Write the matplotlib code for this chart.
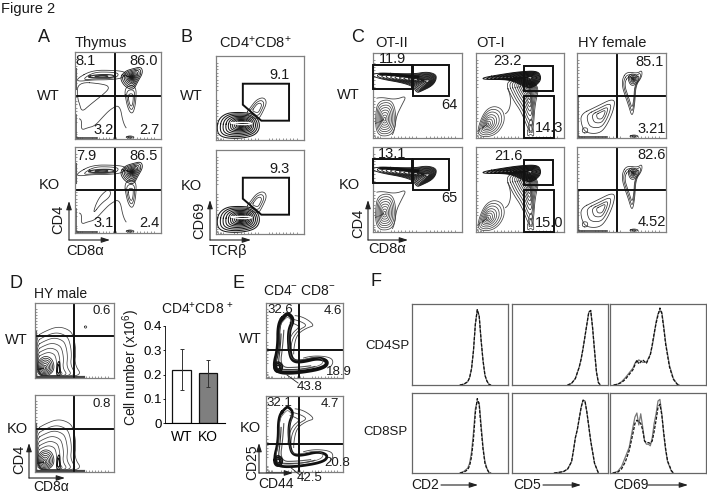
import numpy as np
import matplotlib
matplotlib.use('Agg')
import matplotlib.pyplot as plt

plt.rcParams['font.family'] = ['Liberation Sans', 'DejaVu Sans']
plt.rcParams['mathtext.default'] = 'regular'

W, H = 707, 493

# contour traces, axis units 0-100 in each flow panel
A_BAND = [(3, 70), (20, 79), (45, 79), (60, 77), (56, 70), (40, 68), (20, 68), (3, 66)]
A_BAND_IN = [(12, 71), (25, 74), (44, 74), (46, 71), (30, 70)]
A_DP = [(52, 70), (58, 78), (68, 81), (77, 83), (79, 76), (73, 66), (68, 56), (58, 60)]
A_TAIL = [(57, 60), (60, 40), (64, 30), (68, 30), (71, 44), (71, 62)]
A_DN1 = [(3, 66), (35, 63), (40, 59), (35, 53), (17, 39), (8, 31), (5, 41), (3, 47)]
A_DN2 = [(3, 24), (8, 22), (7, 10), (15, 13), (23, 15), (33, 26), (41, 34), (52, 40), (56, 18), (62, 9)]
A_KO_DN = [(21, 22), (30, 34), (42, 43), (40, 52), (30, 44), (24, 33)]
A_DOT = [(58, 2), (64, 4), (70, 2), (64, 0.5)]

B_MAIN = [(1, 14), (3, 25), (12, 32), (25, 33), (40, 32), (48, 25), (50, 15), (45, 6), (30, 2), (12, 2), (3, 6)]
B_UP = [(33, 30), (40, 40), (46, 48), (54, 51), (58, 45), (53, 33), (48, 24)]
B_HOT = [(14, 20), (24, 21), (38, 21), (42, 19), (30, 18)]
B_GATE = [(30.5, 67), (83, 67), (83, 23), (51.5, 23), (30.5, 42)]

C2_BAND = [(0, 77), (45, 75), (60, 78), (71, 75), (71, 68), (66, 61), (54, 55), (49, 53), (44, 63), (0, 71)]
C2_STREAK = [(0, 75), (20, 75), (45, 72), (55, 72)]
C2_LOW = [(3, 3), (3, 35), (8, 44), (20, 45), (25, 35), (26, 15), (20, 2)]
C2_LINE = [(0, 46), (10, 48), (25, 45), (38, 50), (32, 38), (26, 25), (24, 8), (20, 1)]
C2_GATE_L = [(0, 58), (44, 58), (44, 86), (0, 86)]
C2_GATE_R = [(45, 50), (85, 50), (85, 86), (45, 86)]

C1_BAND = [(8, 71), (30, 75), (50, 78), (70, 79), (74, 72), (72, 65), (62, 58), (52, 62), (40, 68), (25, 69), (8, 69)]
C1_DIAG = [(32, 68), (42, 45), (52, 30), (60, 8), (65, 8), (67, 40), (72, 60), (60, 70)]
C1_LENS = [(58, 1), (60, 18), (63, 24), (65, 12), (66, 1), (62, 5)]
C1_LOW = [(2, 4), (3, 15), (10, 32), (20, 38), (30, 34), (33, 22), (28, 10), (20, 3), (10, 1)]
C1_LINE = [(33, 66), (40, 48), (38, 32), (30, 26)]
C1_GATE_U = [(54, 55), (87, 55), (87, 85), (54, 85)]
C1_GATE_L = [(54, 0), (89, 0), (89, 49), (54, 49)]

HF_DP = [(51, 70), (56, 78), (68, 76), (73, 80), (73, 72), (66, 62), (65, 40), (62, 24), (58, 38), (54, 50), (51, 60)]
HF_DP2 = [(57, 70), (60, 76), (68, 74), (69, 68), (65, 62), (60, 62)]
HF_DN = [(4, 28), (20, 36), (43, 48), (41, 32), (32, 12), (24, 5), (10, 6), (5, 15)]
HF_BOX = [(6, 6), (12, 6), (12, 12), (6, 12)]

D_MAIN = [(1, 55), (12, 62), (29, 69), (44, 64), (49, 55), (52, 36), (50, 18), (60, 3), (30, 2), (2, 2)]
D_IN = [(3, 3), (3, 22), (12, 30), (22, 26), (25, 12), (18, 3)]
D_SPIKE = [(27, 3), (28, 18), (31, 24), (32, 12), (32, 3)]
D_DOT = [(62, 68), (64, 70), (66, 68), (64, 66)]

E_L = [(25, 84), (16, 73), (16, 40), (10, 16), (16, 7), (40, 7), (75, 13), (81, 22), (68, 27),
       (48, 22), (36, 22), (31, 31), (29, 62), (36, 78), (29, 86)]
E_LOBE = [(30, 84), (48, 82), (64, 70), (53, 67), (40, 58), (36, 40), (36, 26)]
E_LOBE2 = [(28, 80), (44, 76), (54, 70), (42, 64), (33, 50), (32, 30)]
E_LOBE3 = [(26, 76), (38, 72), (44, 68), (34, 60), (29, 46), (28, 30)]
E_MID = [(24, 78), (22, 45), (18, 14), (40, 14), (72, 18)]
E_MID2 = [(20, 70), (19, 44), (15, 12), (30, 11), (50, 12), (74, 18)]
E_OUT = [(40, 24), (60, 30), (84, 28), (88, 20), (80, 11)]
E_BLOB = [(10, 12), (11, 20), (17, 22), (22, 16), (20, 9), (14, 7)]

CROSS_A = (47, 50)
CROSS_C = (45.5, 49)
CROSS_D = (49, 56)
CROSS_E = (43, 37)

FLOW_TICKS = [0, 2, 4, 6, 8, 20, 24, 28, 32, 36, 40, 44, 48, 60, 64, 68, 72, 76, 80, 84, 88, 92]

# histograms, panel F
CD2_X = [50, 54, 58, 60, 62, 64, 66, 68, 70, 72, 74, 76, 78, 80, 82]
CD2_TOP = [0, 1, 4, 9, 20, 42, 75, 93, 85, 55, 30, 12, 5, 1, 0]
CD2_BOT = [0, 2, 6, 12, 26, 50, 80, 90, 88, 60, 32, 14, 6, 1, 0]
CD5_X = [58, 62, 66, 70, 72, 74, 76, 78, 80, 82, 84, 86, 88, 90, 92]
CD5_TOP = [0, 2, 8, 22, 32, 45, 60, 75, 90, 92, 70, 42, 16, 3, 0]
CD5B_X = [44, 50, 54, 58, 62, 64, 66, 68, 70, 72, 74, 76, 78, 80, 82, 86, 90]
CD5_BOT = [0, 1, 2, 5, 14, 28, 44, 54, 68, 82, 91, 90, 76, 58, 40, 12, 0]
CD69_X = [4, 8, 12, 16, 20, 24, 26, 28, 30, 34, 38, 42, 44, 46, 48, 50, 52, 54, 56, 58, 60, 62, 66, 70, 72]
CD69_TOP = [0, 1, 4, 9, 15, 21, 27, 29, 31, 28, 28, 38, 48, 62, 78, 88, 92, 90, 72, 52, 38, 24, 8, 1, 0]
CD69_TOP2 = [0, 1, 3, 7, 13, 19, 25, 31, 26, 31, 27, 37, 50, 64, 76, 86, 95, 88, 70, 50, 36, 22, 7, 1, 0]
CD69B_X = [3, 8, 12, 16, 20, 24, 26, 28, 30, 32, 34, 36, 38, 40, 42, 44, 46, 48, 50, 52, 54, 56, 58, 60, 64, 66]
CD69_BOT = [0, 2, 8, 20, 32, 58, 70, 75, 60, 74, 58, 40, 36, 36, 34, 44, 62, 74, 90, 92, 74, 48, 28, 14, 2, 0]
CD69_BOT2 = [0, 1, 5, 14, 28, 50, 62, 66, 64, 62, 54, 40, 38, 38, 37, 40, 52, 66, 82, 86, 72, 50, 30, 15, 3, 0]

# bar chart, panel D
BAR_LABELS = ['WT', 'KO']
BAR_VALUES = [0.22, 0.205]
BAR_ERRORS = [0.085, 0.055]
BAR_TICKS = [0, 0.1, 0.2, 0.3, 0.4]
BAR_TICK_LABELS = ['0', '0.1', '0.2', '0.3', '0.4']

# label text
TEXTS = [
    ('Figure 2', 28, 9, 10.5), ('A', 44, 38, 13), ('B', 186, 38, 13), ('C', 358, 38, 13),
    ('D', 16, 283, 13), ('E', 238, 283, 13), ('F', 376, 282, 13),
    ('Thymus', 101, 43, 10.5), ('WT', 48, 96, 10.5), ('KO', 49, 185, 10.5),
    ('8.1', 85, 61, 10.5), ('86.0', 144, 61, 10.5), ('3.2', 104, 130, 10.5), ('2.7', 149, 130, 10.5),
    ('7.9', 86, 156, 10.5), ('86.5', 144, 156, 10.5), ('3.1', 104, 223, 10.5), ('2.4', 149, 223, 10.5),
    ('CD8α', 85, 251, 10.5),
    ('CD4$^{+}$CD8$^{+}$', 255, 43, 10.5), ('WT', 191, 96, 10.5), ('KO', 191, 186, 10.5),
    ('9.1', 279, 75, 10.5), ('9.3', 279, 169, 10.5), ('TCRβ', 228, 251, 10.5),
    ('OT-II', 392, 43, 10.5), ('OT-I', 491, 43, 10.5), ('HY female', 612, 43, 10.5),
    ('WT', 348, 95, 10.5), ('KO', 349, 185, 10.5),
    ('11.9', 392, 59, 10.5), ('64', 449, 105, 10.5), ('13.1', 392, 154, 10.5), ('65', 449, 198, 10.5),
    ('23.2', 507, 61, 10.5), ('14.3', 549, 128, 10.5), ('21.6', 508, 156, 10.5), ('15.0', 549, 223, 10.5),
    ('85.1', 650, 62, 10.5), ('3.21', 652, 129, 10.5), ('82.6', 652, 155, 10.5), ('4.52', 652, 222, 10.5),
    ('CD8α', 387, 249, 10.5),
    ('HY male', 61, 294, 10), ('WT', 16, 340, 10.5), ('KO', 17, 429, 10.5),
    ('0.6', 102, 311, 9.5), ('0.8', 102, 404, 9.5), ('CD8α', 51, 487, 10),
    ('CD4$^{+}$CD8 $^{+}$', 197, 309, 10),
    ('CD4$^{-}$ CD8$^{-}$', 299, 291, 10), ('WT', 250, 339, 10.5), ('KO', 250, 428, 10.5),
    ('32.6', 280, 310, 9.5), ('4.6', 333, 311, 9.5), ('18.9', 339, 372, 9.5), ('43.8', 310, 387, 9.5),
    ('32.1', 279, 403, 9.5), ('4.7', 330, 404, 9.5), ('20.8', 337, 463, 9.5), ('42.5', 310, 478, 9.5),
    ('CD44', 276, 484, 10),
    ('CD4SP', 387, 346, 9.5), ('CD8SP', 385, 432, 9.5),
    ('CD2', 425, 485, 10), ('CD5', 527, 485, 10), ('CD69', 631, 485, 10),
]
ROT_TEXTS = [
    ('CD4', 58, 219, 10.5), ('CD69', 199, 220, 10.5), ('CD4', 358, 223, 10.5),
    ('CD4', 19, 459, 10.5), ('CD25', 252, 462, 10),
    ('Cell number (x10$^{6}$)', 131, 367, 10),
]
# corner, top end, right end of the axis arrows
AXIS_ARROWS = [
    ((69, 240), (69, 201), (110, 240)), ((210, 240), (210, 200), (251, 240)),
    ((368, 240), (368, 200), (408, 240)), ((29, 478), (29, 443), (65, 478)),
    ((259, 473), (259, 443), (293, 473)),
]
F_ARROWS = [((441, 485), (478, 485)), ((543, 485), (581, 485)), ((648, 485), (688, 485))]


def smooth(pts, closed=True, rounds=3):
    pts = np.array(pts, float)
    for _ in range(rounds):
        nxt = np.roll(pts, -1, axis=0)
        if not closed:
            pts, nxt = pts[:-1], nxt[:-1]
        q = 0.75 * pts + 0.25 * nxt
        r = 0.25 * pts + 0.75 * nxt
        new = np.empty((len(q) * 2, 2))
        new[0::2], new[1::2] = q, r
        pts = new
    if closed:
        pts = np.vstack([pts, pts[0]])
    return pts


def rings(ax, outline, scales, centre=None, color='#333333', lw=0.55):
    pts = smooth(outline)
    c = pts.mean(axis=0) if centre is None else np.array(centre)
    for s in scales:
        p = c + (pts - c) * s
        ax.plot(p[:, 0], p[:, 1], color=color, lw=lw)


def trace(ax, pts, color='#444444', lw=0.6):
    p = smooth(pts, closed=False)
    ax.plot(p[:, 0], p[:, 1], color=color, lw=lw)


def flow_ax(x0, y0, x1, y1, edge='#808080'):
    ax = fig.add_axes([x0 / W, 1 - y1 / H, (x1 - x0) / W, (y1 - y0) / H])
    ax.set_xlim(0, 100)
    ax.set_ylim(0, 100)
    ax.set_xticks(FLOW_TICKS)
    ax.set_yticks(FLOW_TICKS)
    ax.tick_params(direction='in', length=1.5, width=0.4, color='#444444',
                   labelbottom=False, labelleft=False)
    for s in ax.spines.values():
        s.set_color(edge)
        s.set_linewidth(0.9)
    return ax


def cross(ax, xy):
    ax.axvline(xy[0], color='#111111', lw=1.4)
    ax.axhline(xy[1], color='#111111', lw=1.4)


def gate(ax, pts):
    ax.fill(*zip(*pts), fill=False, edgecolor='#111111', lw=1.4, clip_on=False, zorder=5)


def edges(ax, top=40, right=30, lw=1.2):
    ax.plot([1.5, 1.5], [2, top], color='#555555', lw=lw)
    ax.plot([1.5, right], [1.5, 1.5], color='#444444', lw=lw)


DENSE = [1, .88, .77, .66, .56, .47, .39, .31, .24, .18, .12, .07]
TIGHT = [1, .92, .84, .76, .68, .6, .52, .44, .36, .28, .2, .13]
HOT = [1, .85, .7, .56, .44, .34, .26, .2, .15, .11, .08, .05, .03]

fig = plt.figure(figsize=(W / 100, H / 100), dpi=100)

# A
for y0, y1, ko in [(52, 139, False), (147, 233, True)]:
    ax = flow_ax(75, y0, 161, y1)
    rings(ax, A_BAND, [1, .7])
    rings(ax, A_BAND_IN, [1, .5], lw=0.9)
    rings(ax, A_TAIL, [1, .72, .45])
    rings(ax, A_DP, HOT, centre=(66, 71), color='#1a1a1a', lw=0.6)
    if ko:
        rings(ax, A_KO_DN, [1])
    else:
        rings(ax, A_DN1, [1])
    trace(ax, A_DN2)
    rings(ax, A_DOT, [1, .5])
    ax.plot([1.5, 1.5], [58, 80], color='#555555', lw=1.5)
    edges(ax, top=28, right=26)
    cross(ax, CROSS_A)

# B
for y0, y1 in [(56, 140), (150, 234)]:
    ax = flow_ax(216, y0, 304, y1)
    rings(ax, B_MAIN, DENSE + [.03], centre=(30, 19), color='#1a1a1a', lw=0.75)
    rings(ax, B_HOT, [1], color='white', lw=0.9)
    rings(ax, B_UP, [1, .72, .45])
    gate(ax, B_GATE)

# C
for y0, y1 in [(53, 138), (147, 232)]:
    ax = flow_ax(373, y0, 462, y1)
    rings(ax, C2_BAND, TIGHT, centre=(62, 67), color='#1a1a1a', lw=0.65)
    trace(ax, C2_STREAK, color='#111111', lw=2.0)
    rings(ax, C2_LOW, [1, .87, .74, .61, .48, .35, .22, .1], centre=(13, 22), color='#444444')
    trace(ax, C2_LINE)
    gate(ax, C2_GATE_L)
    gate(ax, C2_GATE_R)

    ax = flow_ax(476, y0, 564, y1)
    trace(ax, C1_LINE)
    rings(ax, C1_DIAG, DENSE, centre=(60, 62), color='#333333')
    rings(ax, C1_BAND, TIGHT, centre=(62, 71), color='#111111', lw=0.7)
    rings(ax, C1_LENS, [1, .5], color='#444444')
    rings(ax, C1_LOW, [1, .85, .7, .55, .42, .3, .18, .08], centre=(13, 16), color='#444444')
    gate(ax, C1_GATE_U)
    gate(ax, C1_GATE_L)

    ax = flow_ax(577, y0, 666, y1)
    rings(ax, HF_DP, [1, .85, .7])
    rings(ax, HF_DP2, [1, .75, .5, .35, .2, .1, .05], centre=(63.5, 69), color='#222222')
    rings(ax, HF_DN, [1, .7, .45, .25], centre=(28, 28))
    rings(ax, HF_BOX, [1])
    rings(ax, A_DOT, [1, .5])
    edges(ax, top=48, right=34)
    cross(ax, CROSS_C)

# D
for y0, y1, dot in [(303, 378, True), (395, 472, False)]:
    ax = flow_ax(35, y0, 114, y1)
    rings(ax, D_MAIN, [1, .88, .77, .66, .56, .47], centre=(6, 4), color='#444444')
    rings(ax, D_IN, [1, .85, .7, .55, .4, .25, .12], centre=(12, 13), color='#222222')
    rings(ax, D_SPIKE, [1, .6], color='#111111', lw=0.8)
    edges(ax, top=62, right=62, lw=1.6)
    if dot:
        rings(ax, D_DOT, [1])
    cross(ax, CROSS_D)

# bar chart
ax = fig.add_axes([165 / W, 1 - 423 / H, 60 / W, 97 / H])
ax.bar([16.7, 43], BAR_VALUES, width=18.5, color=['white', '#7f7f7f'],
       edgecolor='#111111', linewidth=0.9)
ax.errorbar([16.7, 43], BAR_VALUES, yerr=BAR_ERRORS, fmt='none', ecolor='#333333',
            elinewidth=0.7, capsize=1.5, capthick=0.7)
ax.set_xlim(0, 60)
ax.set_ylim(0, 0.4)
ax.set_yticks(BAR_TICKS, BAR_TICK_LABELS, fontsize=9.5)
ax.set_xticks([16.7, 43], BAR_LABELS, fontsize=10)
ax.tick_params(axis='x', length=0, pad=5)
ax.tick_params(axis='y', length=1.5, width=0.6, pad=1)
ax.spines['top'].set_visible(False)
ax.spines['right'].set_visible(False)
ax.spines['left'].set_linewidth(0.6)
ax.spines['bottom'].set_linewidth(0.8)

# E
for y0, y1, thick in [(303, 378, 2.8), (396, 472, 2.0)]:
    ax = flow_ax(266, y0, 343, y1)
    for line in (E_LOBE, E_LOBE2, E_LOBE3, E_OUT):
        trace(ax, line)
    trace(ax, E_MID, color='#555555', lw=0.8)
    trace(ax, E_MID2, color='#333333', lw=0.8)
    rings(ax, E_L, [1], color='#111111', lw=thick)
    rings(ax, E_L, [.9], centre=(28, 40), color='#555555', lw=0.5)
    rings(ax, E_BLOB, [1, .7, .4], color='#111111', lw=1.1)
    cross(ax, CROSS_E)

# F
hist_cols = [(412, 508), (512, 608), (610, 706)]
hist_rows = [(304, 385), (393, 473)]
curves = [
    [(CD2_X, CD2_TOP, CD2_TOP), (CD5_X, CD5_TOP, CD5_TOP), (CD69_X, CD69_TOP, CD69_TOP2)],
    [(CD2_X, CD2_BOT, CD2_TOP), (CD5B_X, CD5_BOT, CD5_BOT), (CD69B_X, CD69_BOT, CD69_BOT2)],
]
for r, (y0, y1) in enumerate(hist_rows):
    for c, (x0, x1) in enumerate(hist_cols):
        xs, solid, dashed = curves[r][c]
        ax = fig.add_axes([x0 / W, 1 - y1 / H, (x1 - x0) / W, (y1 - y0) / H])
        ax.plot(xs, solid, color='#777777', lw=0.9)
        ax.plot(xs, dashed, color='#111111', lw=0.9, ls=(0, (2.5, 1.2)))
        ax.set_xlim(0, 100)
        ax.set_ylim(0, 100)
        ax.set_xticks([])
        ax.set_yticks([])
        for s in ax.spines.values():
            s.set_color('#666666')
            s.set_linewidth(0.9)

# page layer for labels and arrows, pixel units
page = fig.add_axes([0, 0, 1, 1], zorder=10)
page.set_xlim(0, W)
page.set_ylim(H, 0)
page.axis('off')
for txt, x, y, size in TEXTS:
    page.text(x, y, txt, ha='center', va='center', fontsize=size, color='#1a1a1a')
for txt, x, y, size in ROT_TEXTS:
    page.text(x, y, txt, ha='center', va='center', fontsize=size, rotation=90, color='#1a1a1a')

arrow = dict(arrowstyle='-|>,head_width=0.16,head_length=0.5', color='#222222', lw=0.8,
             shrinkA=0, shrinkB=0)
for corner, top, right in AXIS_ARROWS:
    page.annotate('', xy=top, xytext=corner, arrowprops=arrow)
    page.annotate('', xy=right, xytext=corner, arrowprops=arrow)
for start, end in F_ARROWS:
    page.annotate('', xy=end, xytext=start, arrowprops=arrow)
# pointers to the 43.8 and 42.5 labels
page.plot([287, 298], [375, 383], color='#222222', lw=0.6)
page.plot([290, 300], [467, 475], color='#222222', lw=0.6)

fig.savefig('out.png', dpi=100)
